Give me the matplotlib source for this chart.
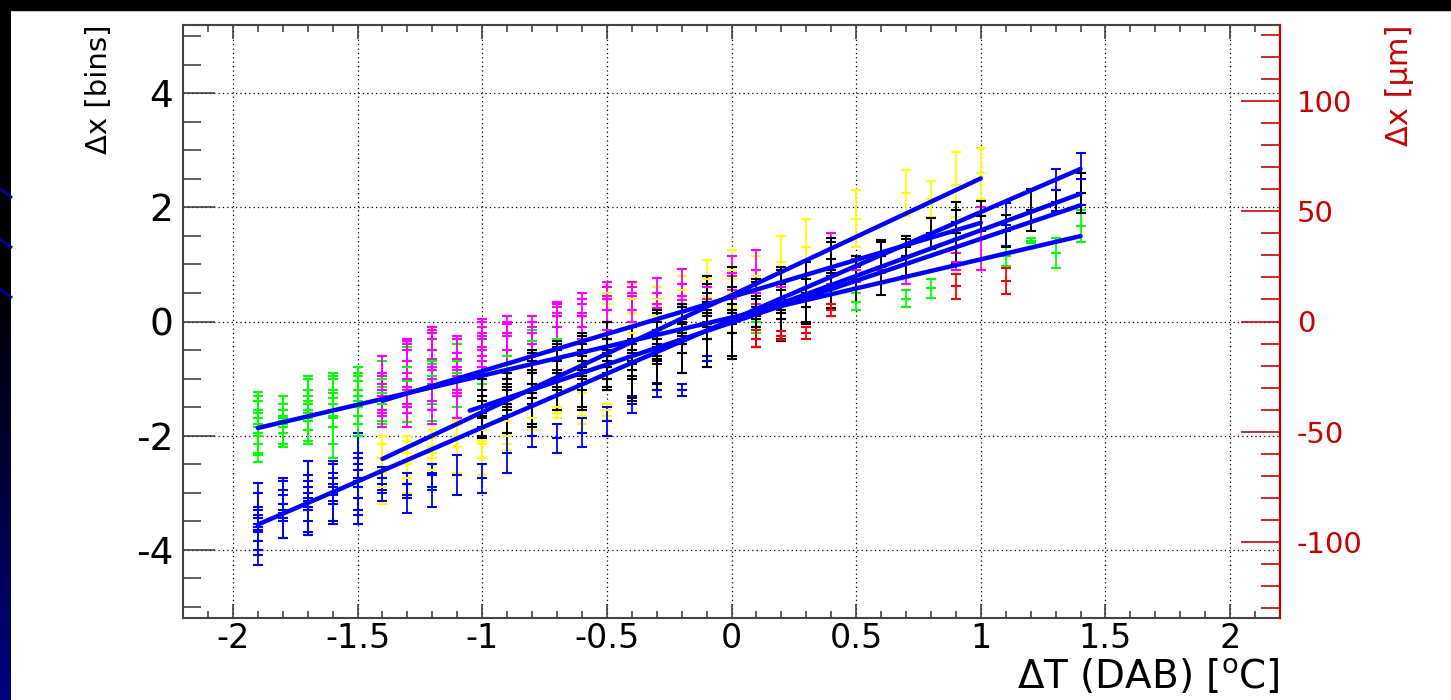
import numpy as np
import matplotlib
matplotlib.use("Agg")
import matplotlib.pyplot as plt
from matplotlib.ticker import MultipleLocator, FuncFormatter
from matplotlib.patches import Rectangle
from matplotlib.lines import Line2D

plt.rcParams["font.family"] = ["DejaVu Sans"]
plt.rcParams["axes.unicode_minus"] = False
plt.rcParams["mathtext.fontset"] = "dejavusans"

# (dT, dx, err) per run
green_pts = [
    (-1.9, -1.85, 0.62), (-1.9, -1.55, 0.25), (-1.9, -1.95, 0.35), (-1.9, -2.15, 0.2), (-1.9, -1.7, 0.3),
    (-1.8, -1.75, 0.45), (-1.8, -1.55, 0.25), (-1.8, -1.95, 0.25), (-1.8, -1.85, 0.3), (-1.8, -1.65, 0.2),
    (-1.7, -1.55, 0.6), (-1.7, -1.3, 0.3), (-1.7, -1.75, 0.35), (-1.7, -1.45, 0.25), (-1.7, -1.9, 0.25), (-1.7, -1.2, 0.2),
    (-1.6, -1.65, 0.75), (-1.6, -1.35, 0.35), (-1.6, -1.2, 0.25), (-1.6, -1.55, 0.3), (-1.6, -1.85, 0.3),
    (-1.5, -1.4, 0.6), (-1.5, -1.2, 0.3), (-1.5, -1.05, 0.25), (-1.5, -1.5, 0.3), (-1.5, -1.3, 0.35),
    (-1.4, -1.25, 0.55), (-1.4, -1.0, 0.3), (-1.4, -1.45, 0.3),
    (-1.3, -1.05, 0.72), (-1.3, -0.8, 0.35), (-1.3, -1.2, 0.3),
    (-1.2, -0.95, 0.8), (-1.2, -0.7, 0.4), (-1.2, -1.1, 0.35),
    (-1.1, -0.9, 0.6), (-1.1, -0.7, 0.3),
    (-1.0, -0.7, 0.4), (-0.9, -0.6, 0.4), (-0.8, -0.35, 0.2), (-0.7, -0.3, 0.2),
    (-0.2, -0.15, 0.1), (0.1, -0.1, 0.1), (0.5, 0.35, 0.15), (0.7, 0.4, 0.15), (0.8, 0.58, 0.17),
    (1.1, 1.14, 0.16), (1.2, 1.42, 0.05), (1.3, 1.2, 0.27), (1.4, 1.67, 0.28),
]
blue_pts = [
    (-1.9, -3.55, 0.72), (-1.9, -3.3, 0.3), (-1.9, -3.7, 0.3), (-1.9, -3.85, 0.25), (-1.9, -3.45, 0.2),
    (-1.8, -3.3, 0.5), (-1.8, -3.05, 0.3), (-1.8, -3.5, 0.3), (-1.8, -3.2, 0.25),
    (-1.7, -3.1, 0.65), (-1.7, -2.8, 0.35), (-1.7, -3.3, 0.4), (-1.7, -3.0, 0.3), (-1.7, -3.5, 0.25),
    (-1.6, -3.0, 0.5), (-1.6, -2.75, 0.3), (-1.6, -3.2, 0.35), (-1.6, -2.9, 0.25),
    (-1.5, -2.75, 0.8), (-1.5, -2.4, 0.4), (-1.5, -2.9, 0.4), (-1.5, -2.6, 0.3), (-1.5, -3.1, 0.3),
    (-1.4, -3.0, 0.15), (-1.4, -2.75, 0.2),
    (-1.3, -3.1, 0.25), (-1.3, -2.85, 0.2),
    (-1.2, -2.95, 0.3), (-1.2, -2.7, 0.2),
    (-1.1, -2.7, 0.35), (-1.0, -2.75, 0.25), (-0.9, -2.3, 0.35),
    (-0.8, -2.0, 0.2), (-0.7, -2.05, 0.25), (-0.6, -1.95, 0.25), (-0.5, -1.75, 0.25), (-0.4, -1.45, 0.15),
    (-0.3, -1.2, 0.12), (-0.2, -1.2, 0.1), (-0.1, -0.7, 0.1),
    (1.1, 1.7, 0.37), (1.3, 2.3, 0.37), (1.4, 2.5, 0.45),
]
yellow_pts = [
    (-1.4, -2.6, 0.6), (-1.4, -2.9, 0.3), (-1.4, -2.4, 0.25),
    (-1.3, -2.5, 0.5), (-1.3, -2.75, 0.3), (-1.3, -2.3, 0.2),
    (-1.2, -2.4, 0.5), (-1.2, -2.2, 0.3), (-1.2, -2.6, 0.3), (-1.2, -2.05, 0.15),
    (-1.1, -2.2, 0.45), (-1.1, -2.0, 0.2),
    (-1.0, -2.1, 0.6), (-1.0, -2.4, 0.3), (-1.0, -1.9, 0.25),
    (-0.9, -1.75, 0.4), (-0.9, -2.0, 0.25),
    (-0.8, -1.5, 0.3), (-0.8, -1.7, 0.2),
    (-0.7, -1.3, 0.3), (-0.7, -1.5, 0.2),
    (-0.6, -0.6, 0.3), (-0.6, -1.0, 0.25), (-0.6, -1.65, 0.15),
    (-0.5, -1.55, 0.1), (-0.5, 0.5, 0.2),
    (-0.4, -0.2, 0.2), (-0.4, 0.4, 0.25),
    (-0.3, 0.1, 0.3), (-0.3, 0.4, 0.2),
    (-0.2, 0.55, 0.25),
    (-0.1, 0.75, 0.32), (-0.1, 0.3, 0.2),
    (0.0, 0.9, 0.35), (0.0, 0.5, 0.25),
    (0.1, 0.8, 0.35), (0.2, 1.05, 0.45), (0.3, 1.3, 0.5), (0.5, 1.8, 0.5),
    (0.7, 2.25, 0.4), (0.8, 2.15, 0.32), (0.9, 2.4, 0.57), (1.0, 2.6, 0.45),
]
magenta_pts = [
    (-1.4, -1.1, 0.5), (-1.4, -0.9, 0.3), (-1.4, -1.3, 0.35), (-1.4, -1.55, 0.3),
    (-1.3, -0.9, 0.55), (-1.3, -0.7, 0.3), (-1.3, -1.2, 0.4), (-1.3, -1.5, 0.35), (-1.3, -0.5, 0.2),
    (-1.2, -0.8, 0.6), (-1.2, -0.5, 0.35), (-1.2, -1.1, 0.45), (-1.2, -1.4, 0.4), (-1.2, -0.3, 0.2),
    (-1.1, -0.8, 0.5), (-1.1, -0.55, 0.3), (-1.1, -1.2, 0.5), (-1.1, -0.95, 0.3),
    (-1.0, -0.3, 0.3), (-1.0, -0.1, 0.15), (-1.0, -0.5, 0.3), (-1.0, -0.7, 0.25),
    (-0.9, -0.25, 0.25), (-0.9, -0.05, 0.15), (-0.9, -0.5, 0.25),
    (-0.8, 0.0, 0.1), (-0.8, -0.2, 0.2), (-0.8, -0.4, 0.2),
    (-0.7, 0.1, 0.2), (-0.7, -0.1, 0.2), (-0.7, 0.25, 0.1),
    (-0.6, 0.15, 0.25), (-0.6, 0.4, 0.1), (-0.6, -0.1, 0.2),
    (-0.5, 0.45, 0.25), (-0.5, 0.2, 0.2), (-0.5, 0.6, 0.1), (-0.5, -0.15, 0.15),
    (-0.4, 0.45, 0.25), (-0.4, 0.2, 0.2), (-0.4, 0.6, 0.1),
    (-0.3, 0.5, 0.27), (-0.3, 0.3, 0.2), (-0.3, -0.2, 0.2),
    (-0.2, 0.65, 0.27), (-0.2, 0.45, 0.2),
    (-0.1, 0.6, 0.2),
    (0.0, 0.85, 0.3), (0.0, 0.6, 0.2),
    (0.1, 0.9, 0.35), (0.1, 0.5, 0.2),
    (0.2, 0.6, 0.3), (0.4, 1.1, 0.45), (0.5, 0.9, 0.2), (0.7, 1.0, 0.35),
    (0.9, 1.05, 0.15), (1.0, 1.45, 0.55),
]
black_pts = [
    (-1.0, -1.5, 0.5), (-1.0, -1.3, 0.3), (-1.0, -1.7, 0.3), (-1.0, -1.2, 0.2), (-1.0, -1.85, 0.2),
    (-0.9, -1.45, 0.55), (-0.9, -1.2, 0.3), (-0.9, -1.65, 0.3), (-0.9, -1.35, 0.2), (-0.9, -1.0, 0.1),
    (-0.8, -1.2, 0.65), (-0.8, -0.9, 0.35), (-0.8, -1.45, 0.35), (-0.8, -1.1, 0.25), (-0.8, -0.7, 0.2),
    (-0.7, -1.0, 0.55), (-0.7, -0.7, 0.3), (-0.7, -1.2, 0.35), (-0.7, -0.9, 0.25), (-0.7, -0.5, 0.15),
    (-0.6, -0.9, 0.65), (-0.6, -0.6, 0.35), (-0.6, -1.1, 0.4), (-0.6, -0.8, 0.3), (-0.6, -0.4, 0.2),
    (-0.6, -0.7, 0.15), (-0.6, -1.0, 0.2),
    (-0.5, -0.6, 0.6), (-0.5, -0.3, 0.3), (-0.5, -0.8, 0.35), (-0.5, -0.55, 0.25), (-0.5, -1.0, 0.2),
    (-0.5, -0.45, 0.15), (-0.5, -0.7, 0.2),
    (-0.4, -0.75, 0.65), (-0.4, -0.4, 0.3), (-0.4, -0.95, 0.4), (-0.4, -0.6, 0.25),
    (-0.4, -0.3, 0.2), (-0.4, -0.85, 0.15),
    (-0.3, -0.5, 0.7), (-0.3, -0.2, 0.3), (-0.3, -0.7, 0.4), (-0.3, -0.4, 0.25), (-0.3, 0.0, 0.15),
    (-0.3, -0.6, 0.15),
    (-0.2, -0.3, 0.6), (-0.2, -0.05, 0.3), (-0.2, -0.55, 0.35), (-0.2, -0.2, 0.2),
    (-0.2, -0.4, 0.15), (-0.2, 0.05, 0.2),
    (-0.1, 0.0, 0.8), (-0.1, 0.3, 0.35), (-0.1, -0.3, 0.4), (-0.1, 0.5, 0.3), (-0.1, -0.1, 0.2),
    (-0.1, 0.15, 0.2),
    (0.0, 0.15, 0.8), (0.0, 0.45, 0.4), (0.0, -0.2, 0.4), (0.0, 0.2, 0.25), (0.0, 0.6, 0.3),
    (0.0, 0.0, 0.2),
    (0.1, 0.15, 0.6), (0.1, 0.4, 0.3), (0.1, -0.1, 0.35), (0.1, 0.25, 0.2), (0.1, 0.05, 0.15),
    (0.2, 0.3, 0.65), (0.2, 0.55, 0.35), (0.2, 0.05, 0.35), (0.2, 0.4, 0.25), (0.2, 0.2, 0.15),
    (0.3, 0.5, 0.55), (0.3, 0.75, 0.3), (0.3, 0.25, 0.25),
    (0.4, 0.85, 0.62), (0.4, 1.1, 0.3), (0.4, 0.6, 0.3),
    (0.5, 0.75, 0.4), (0.5, 0.95, 0.2),
    (0.6, 0.95, 0.48), (0.6, 1.15, 0.25),
    (0.7, 1.15, 0.35), (0.7, 1.3, 0.15),
    (0.8, 1.55, 0.27), (0.9, 1.55, 0.55), (0.9, 1.75, 0.2),
    (1.0, 1.85, 0.27), (1.1, 1.58, 0.28), (1.2, 1.95, 0.37), (1.3, 2.1, 0.2), (1.4, 2.25, 0.35),
]
red_pts = [
    (0.1, -0.3, 0.15), (0.2, -0.25, 0.08), (0.3, -0.2, 0.1), (0.4, 0.2, 0.1), (0.6, 0.9, 0.05),
    (0.9, 0.62, 0.22), (1.1, 0.71, 0.22),
]

# straight-line fits: slope, intercept, fit range
fit_slope = [1.02, 1.89, 2.05, 1.30, 1.47, 1.60]
fit_icpt = [0.07, 0.03, 0.46, 0.43, -0.02, 0.0]
fit_lo = [-1.9, -1.9, -1.4, -1.4, -1.05, 0.0]
fit_hi = [1.4, 1.4, 1.0, 1.0, 1.4, 1.4]

BIN_TO_UM = 25.85
RED = "#cc0000"

W, H = 1451, 700
fig = plt.figure(figsize=(W / 100, H / 100), dpi=100, facecolor="white")

# slide decoration: black top band, dark strip on the left
fig.patches.append(Rectangle((0, 1 - 10 / H), 1, 10 / H, transform=fig.transFigure,
                             color="black", zorder=0))
strip = fig.add_axes([0, 0, 11 / W, 1 - 10 / H])
grad = np.concatenate([np.zeros(40), np.linspace(0, 1, 60)])
strip.imshow(np.dstack([0 * grad, 0 * grad, 0.5 * grad]).reshape(-1, 1, 3) * np.ones((1, 2, 1)),
             aspect="auto", extent=[0, 1, 0, 1], origin="upper")
strip.axis("off")
for y0 in [193, 243, 293]:
    fig.add_artist(Line2D([0, 11 / W], [1 - (y0 - 4) / H, 1 - (y0 + 4) / H],
                          color="#0000a0", lw=2))

ax = fig.add_axes([183 / W, 1 - 618 / H, (1280 - 183) / W, (618 - 25) / H])
ax.set_xlim(-2.2, 2.2)
ax.set_ylim(-5.2, 5.2)

series = [(yellow_pts, "#ffff00"), (blue_pts, "#0000ff"), (green_pts, "#00ff00"),
          (magenta_pts, "#ff00ff"), (black_pts, "black"), (red_pts, "#ff0000")]
for pts, col in series:
    xs = [p[0] for p in pts]
    ys = [p[1] for p in pts]
    es = [p[2] for p in pts]
    ax.errorbar(xs, ys, yerr=es, fmt="_", ms=7.5, mew=1.5, color=col, ecolor=col,
                elinewidth=1.3, capsize=3.5, capthick=1.5, zorder=3)

for b, a, lo, hi in zip(fit_slope, fit_icpt, fit_lo, fit_hi):
    xx = np.array([lo, hi])
    ax.plot(xx, a + b * xx, color="#0000ff", lw=3.2, solid_capstyle="round", zorder=4)

fmt = FuncFormatter(lambda v, p: "%g" % v)
ax.xaxis.set_major_locator(MultipleLocator(0.5))
ax.xaxis.set_minor_locator(MultipleLocator(0.1))
ax.yaxis.set_major_locator(MultipleLocator(2))
ax.yaxis.set_minor_locator(MultipleLocator(0.5))
ax.xaxis.set_major_formatter(fmt)
ax.yaxis.set_major_formatter(fmt)
ax.tick_params(axis="x", which="both", direction="in", top=True, bottom=True,
               labelsize=24, pad=3, color="#333333")
ax.tick_params(axis="x", which="major", length=10, width=1.1)
ax.tick_params(axis="x", which="minor", length=5, width=1.1)
ax.tick_params(axis="y", which="both", direction="in", left=True, right=False,
               labelsize=27, pad=7, color="#333333")
ax.tick_params(axis="y", which="major", length=23, width=1.1)
ax.tick_params(axis="y", which="minor", length=13, width=1.1)
ax.grid(True, which="major", color="black", linestyle=(0, (1, 2.5)), linewidth=0.9)
ax.set_axisbelow(True)
for s in ["left", "bottom", "top"]:
    ax.spines[s].set_color("#444444")
    ax.spines[s].set_linewidth(1.5)
ax.spines["right"].set_visible(False)

# right axis in micrometres
ax2 = ax.twinx()
ax2.set_ylim(-5.2 * BIN_TO_UM, 5.2 * BIN_TO_UM)
ax2.yaxis.set_major_locator(MultipleLocator(50))
ax2.yaxis.set_minor_locator(MultipleLocator(10))
ax2.yaxis.set_major_formatter(fmt)
ax2.tick_params(axis="y", which="both", direction="in", colors=RED, labelsize=21, pad=12)
ax2.tick_params(axis="y", which="major", length=28, width=1.2)
ax2.tick_params(axis="y", which="minor", length=14, width=1.2)
for s in ["left", "bottom", "top"]:
    ax2.spines[s].set_visible(False)
ax2.spines["right"].set_color(RED)
ax2.spines["right"].set_linewidth(1.6)

fig.text(99 / W, 1 - 25 / H, "Δx [bins]", rotation=90, ha="center", va="top", fontsize=21)
fig.text(1400 / W, 1 - 25 / H, "Δx [μm]", rotation=90, ha="center", va="top",
         fontsize=22, color=RED)
fig.text(1280 / W, 1 - 658 / H, r"ΔT (DAB) [$^{\mathrm{o}}$C]", ha="right", va="top",
         fontsize=28)

fig.savefig("out.png", dpi=100, facecolor="white")
